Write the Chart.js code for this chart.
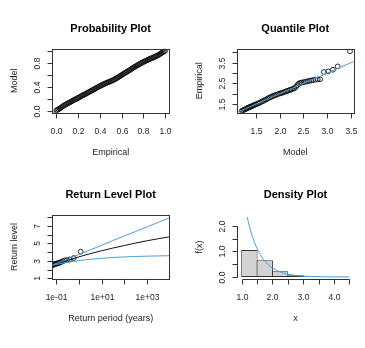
<!DOCTYPE html>
<html>
<head>
<meta charset="utf-8">
<script src="https://cdn.jsdelivr.net/npm/chart.js@4.4.1/dist/chart.umd.min.js"></script>
<style>
  body { margin: 0; background: #fff; }
  #fig { position: relative; width: 365px; height: 348px; overflow: hidden; }
  #fig canvas { position: absolute; }
</style>
</head>
<body>
<div id="fig">
  <canvas id="probPlot" width="182" height="174" style="left:0;top:0"></canvas>
  <canvas id="qqPlot" width="183" height="174" style="left:182px;top:0"></canvas>
  <canvas id="rlPlot" width="182" height="174" style="left:0;top:174px"></canvas>
  <canvas id="densPlot" width="183" height="174" style="left:182px;top:174px"></canvas>
</div>
<script>
// Probability plot (empirical vs model probabilities)
const probEmpirical = [0,0.01,0.02,0.03,0.04,0.05,0.06,0.07,0.08,0.09,0.1,0.11,0.12,0.13,0.14,0.15,0.16,0.17,0.18,0.19,
  0.2,0.21,0.22,0.23,0.24,0.25,0.26,0.27,0.28,0.29,0.3,0.31,0.32,0.33,0.34,0.35,0.36,0.37,0.38,0.39,
  0.4,0.41,0.42,0.43,0.44,0.45,0.46,0.47,0.48,0.49,0.5,0.51,0.52,0.53,0.54,0.55,0.56,0.57,0.58,0.59,
  0.6,0.61,0.62,0.63,0.64,0.65,0.66,0.67,0.68,0.69,0.7,0.71,0.72,0.73,0.74,0.75,0.76,0.77,0.78,0.79,
  0.8,0.81,0.82,0.83,0.84,0.85,0.86,0.87,0.88,0.89,0.9,0.91,0.92,0.93,0.94,0.95,0.96,0.97,0.98,0.99,1];
const probModel = [0.004,0.012,0.024,0.036,0.047,0.061,0.074,0.086,0.095,0.107,0.118,0.127,0.136,0.146,0.156,0.166,0.177,0.186,0.194,0.203,
  0.214,0.224,0.233,0.244,0.255,0.263,0.272,0.281,0.291,0.302,0.312,0.322,0.331,0.341,0.352,0.361,0.371,0.381,0.391,0.401,
  0.41,0.419,0.429,0.438,0.447,0.455,0.462,0.471,0.478,0.485,0.493,0.501,0.509,0.518,0.528,0.539,0.549,0.56,0.571,0.583,
  0.594,0.606,0.617,0.629,0.64,0.651,0.662,0.673,0.685,0.697,0.709,0.72,0.731,0.742,0.752,0.762,0.773,0.784,0.794,0.803,
  0.813,0.822,0.831,0.84,0.848,0.856,0.864,0.872,0.88,0.889,0.897,0.905,0.913,0.922,0.932,0.943,0.954,0.966,0.978,0.989,0.998];
const probRefLine = [-0.1, 1.1];
const probXTicks = [0, 0.2, 0.4, 0.6, 0.8, 1];
const probXLabels = ['0.0', '0.2', '0.4', '0.6', '0.8', '1.0'];
const probYTicks = [0, 0.2, 0.4, 0.6, 0.8, 1];
const probYLabels = ['0.0', '', '0.4', '', '0.8', ''];

// Quantile plot (model vs empirical quantiles)
const qqModel = [1.2,1.22,1.24,1.26,1.28,1.3,1.32,1.34,1.36,1.38,1.4,1.42,1.44,1.46,1.48,1.5,1.53,1.56,1.59,1.62,
  1.65,1.68,1.71,1.74,1.77,1.8,1.83,1.86,1.89,1.92,1.95,1.98,2.01,2.04,2.07,2.1,2.13,2.16,2.19,2.22,
  2.25,2.28,2.31,2.34,2.37,2.4,2.43,2.46,2.5,2.54,2.58,2.62,2.66,2.7,2.75,2.8,2.85,2.93,3.02,3.12,3.22,3.48];
const qqEmpirical = [1.17,1.19,1.21,1.24,1.26,1.28,1.31,1.33,1.35,1.37,1.39,1.41,1.43,1.45,1.47,1.49,1.52,1.55,1.58,1.62,
  1.65,1.69,1.72,1.76,1.8,1.83,1.86,1.89,1.92,1.95,1.97,2,2.02,2.04,2.06,2.09,2.11,2.14,2.16,2.19,
  2.21,2.24,2.27,2.33,2.42,2.49,2.52,2.54,2.56,2.58,2.6,2.62,2.64,2.66,2.68,2.69,2.7,3.05,3.08,3.16,3.32,4.05];
const qqRefLine = [1.0, 3.7];
const qqXTicks = [1.5, 2, 2.5, 3, 3.5];
const qqXLabels = ['1.5', '2.0', '2.5', '3.0', '3.5'];
const qqYTicks = [1.5, 2, 2.5, 3, 3.5, 4];
const qqYLabels = ['1.5', '', '2.5', '', '3.5', ''];

// Return level plot
const rlPeriod = [0.061, 0.064, 0.068, 0.071, 0.076, 0.081, 0.086, 0.093, 0.1, 0.11, 0.121, 0.134, 0.15, 0.17, 0.2, 0.24, 0.3, 0.4, 0.6, 1.21];
const rlLevel = [2.45, 2.47, 2.5, 2.53, 2.56, 2.59, 2.61, 2.64, 2.67, 2.69, 2.72, 2.75, 2.8, 2.88, 2.95, 3.05, 3.08, 3.16, 3.32, 4.05];
const rlCurvePeriod = [0.0668, 0.1, 0.3, 1, 3, 10, 30, 100, 300, 1000, 3000, 9200];
const rlEstimate = [2.52, 2.65, 3.02, 3.45, 3.8, 4.15, 4.45, 4.75, 5.03, 5.3, 5.53, 5.74];
const rlUpper = [2.55, 2.68, 3.15, 3.72, 4.22, 4.78, 5.3, 5.85, 6.35, 6.9, 7.4, 7.92];
const rlLower = [2.48, 2.58, 2.82, 3.02, 3.17, 3.29, 3.38, 3.45, 3.5, 3.53, 3.56, 3.58];
const rlXTicks = [0.1, 1, 10, 100, 1000];
const rlXLabels = ['1e-01', '', '1e+01', '', '1e+03'];
const rlYTicks = [1, 2, 3, 4, 5, 6, 7, 8];
const rlYLabels = ['1', '', '3', '', '5', '', '7', ''];

// Density plot
const histMids = [1.25, 1.75, 2.25, 2.75, 3.25, 3.75, 4.25];
const histDensity = [1.05, 0.65, 0.22, 0.07, 0.03, 0, 0.01];
const densX = [1.18, 1.25, 1.3, 1.4, 1.5, 1.6, 1.7, 1.8, 1.9, 2.0, 2.2, 2.4, 2.6, 2.8, 3.0, 3.3, 3.6, 4.0, 4.5];
const densY = [2.33, 1.98, 1.76, 1.4, 1.11, 0.88, 0.7, 0.56, 0.44, 0.35, 0.22, 0.14, 0.09, 0.055, 0.035, 0.018, 0.009, 0.004, 0.0015];
const densXTicks = [1, 1.5, 2, 2.5, 3, 3.5, 4, 4.5];
const densXLabels = ['1.0', '', '2.0', '', '3.0', '', '4.0', ''];
const densYTicks = [0, 0.5, 1, 1.5, 2];
const densYLabels = ['0.0', '', '1.0', '', '2.0'];

const BLUE = 'rgb(70,160,225)';
const INK = '#222';
const FONT = '"Liberation Sans", Arial, sans-serif';

const pts = (xs, ys) => xs.map((x, i) => ({ x, y: ys[i] }));

// R-style axes: box, outward ticks, rotated y labels, titles
function rAxes(spec) {
  return {
    id: 'rAxes',
    afterDraw(chart) {
      const { ctx, chartArea: a, scales: { x, y } } = chart;
      const snap = v => Math.round(v) + 0.5;
      ctx.save();
      ctx.strokeStyle = '#333';
      ctx.lineWidth = 1;
      if (spec.box) {
        ctx.strokeRect(snap(a.left), snap(a.top), Math.round(a.right) - Math.round(a.left), Math.round(a.bottom) - Math.round(a.top));
      }
      const xb = snap(a.bottom), yl = snap(a.left);
      const xs = spec.xTicks.map(v => snap(x.getPixelForValue(v)));
      const ys = spec.yTicks.map(v => snap(y.getPixelForValue(v)));
      ctx.beginPath();
      ctx.moveTo(xs[0], xb); ctx.lineTo(xs[xs.length - 1], xb);
      xs.forEach(p => { ctx.moveTo(p, xb); ctx.lineTo(p, xb + 5); });
      ctx.moveTo(yl, ys[0]); ctx.lineTo(yl, ys[ys.length - 1]);
      ys.forEach(p => { ctx.moveTo(yl, p); ctx.lineTo(yl - 5, p); });
      ctx.stroke();

      ctx.fillStyle = INK;
      ctx.font = '8.5px ' + FONT;
      ctx.textAlign = 'center';
      ctx.textBaseline = 'alphabetic';
      xs.forEach((p, i) => { if (spec.xLabels[i]) ctx.fillText(spec.xLabels[i], p, a.bottom + 21); });
      ys.forEach((p, i) => {
        if (!spec.yLabels[i]) return;
        ctx.save();
        ctx.translate(a.left - 12.5, p);
        ctx.rotate(-Math.PI / 2);
        ctx.fillText(spec.yLabels[i], 0, 0);
        ctx.restore();
      });

      const cx = (a.left + a.right) / 2, cy = (a.top + a.bottom) / 2;
      ctx.font = '9px ' + FONT;
      ctx.fillText(spec.xTitle, cx, a.bottom + 42);
      ctx.save();
      ctx.translate(a.left - 35.5, cy);
      ctx.rotate(-Math.PI / 2);
      ctx.fillText(spec.yTitle, 0, 0);
      ctx.restore();

      ctx.fillStyle = '#000';
      ctx.font = 'bold 11px ' + FONT;
      ctx.fillText(spec.title, cx, a.top - 17);
      ctx.restore();
    }
  };
}

function panel(id, type, datasets, scales, padding, spec) {
  return new Chart(document.getElementById(id), {
    type,
    data: { datasets },
    options: {
      responsive: false,
      animation: false,
      events: [],
      layout: { padding },
      plugins: { legend: { display: false }, tooltip: { enabled: false }, title: { display: false } },
      scales: {
        x: Object.assign({ display: false, offset: false }, scales.x),
        y: Object.assign({ display: false }, scales.y)
      }
    },
    plugins: [rAxes(spec)]
  });
}

const circles = {
  backgroundColor: 'rgba(0,0,0,0)', borderColor: '#111', borderWidth: 0.9,
  pointRadius: 2.4, pointStyle: 'circle', showLine: false
};
const line = (data, color) => ({
  type: 'line', data, borderColor: color, borderWidth: 1, pointRadius: 0, fill: false, tension: 0
});

// Probability Plot (points drawn over the reference line)
panel('probPlot', 'scatter', [
  Object.assign({ data: pts(probEmpirical, probModel) }, circles),
  line(pts(probRefLine, probRefLine), BLUE)
], {
  x: { type: 'linear', min: -0.04, max: 1.04 },
  y: { type: 'linear', min: -0.035, max: 1.035 }
}, { left: 52, right: 12.7, top: 48.8, bottom: 61.2 }, {
  box: true, title: 'Probability Plot', xTitle: 'Empirical', yTitle: 'Model',
  xTicks: probXTicks, xLabels: probXLabels, yTicks: probYTicks, yLabels: probYLabels
});

// Quantile Plot
panel('qqPlot', 'scatter', [
  line(pts(qqRefLine, qqRefLine), BLUE),
  Object.assign({ data: pts(qqModel, qqEmpirical) }, circles)
], {
  x: { type: 'linear', min: 1.1, max: 3.553 },
  y: { type: 'linear', min: 1.08, max: 4.17 }
}, { left: 55, right: 11.5, top: 48.8, bottom: 61.2 }, {
  box: true, title: 'Quantile Plot', xTitle: 'Model', yTitle: 'Empirical',
  xTicks: qqXTicks, xLabels: qqXLabels, yTicks: qqYTicks, yLabels: qqYLabels
});

// Return Level Plot
panel('rlPlot', 'scatter', [
  line(pts(rlCurvePeriod, rlUpper), BLUE),
  line(pts(rlCurvePeriod, rlLower), BLUE),
  line(pts(rlCurvePeriod, rlEstimate), '#111'),
  Object.assign({ data: pts(rlPeriod, rlLevel) }, circles)
], {
  x: { type: 'logarithmic', min: 0.0668, max: 9200 },
  y: { type: 'linear', min: 0.87, max: 8.27 }
}, { left: 52, right: 12.7, top: 40.8, bottom: 68.6 }, {
  box: true, title: 'Return Level Plot', xTitle: 'Return period (years)', yTitle: 'Return level',
  xTicks: rlXTicks, xLabels: rlXLabels, yTicks: rlYTicks, yLabels: rlYLabels
});

// Density Plot
panel('densPlot', 'bar', [
  Object.assign(line(pts(densX, densY), BLUE), { cubicInterpolationMode: 'monotone' }),
  {
    type: 'bar', data: pts(histMids, histDensity),
    backgroundColor: '#d3d3d3', borderColor: '#333', borderWidth: 1, borderSkipped: false,
    barPercentage: 1.065, categoryPercentage: 1
  }
], {
  x: { type: 'linear', min: 0.86, max: 4.64 },
  y: { type: 'linear', min: -0.094, max: 2.425 }
}, { left: 55.4, right: 11.4, top: 40.8, bottom: 68.6 }, {
  box: false, title: 'Density Plot', xTitle: 'x', yTitle: 'f(x)',
  xTicks: densXTicks, xLabels: densXLabels, yTicks: densYTicks, yLabels: densYLabels
});
</script>
</body>
</html>
